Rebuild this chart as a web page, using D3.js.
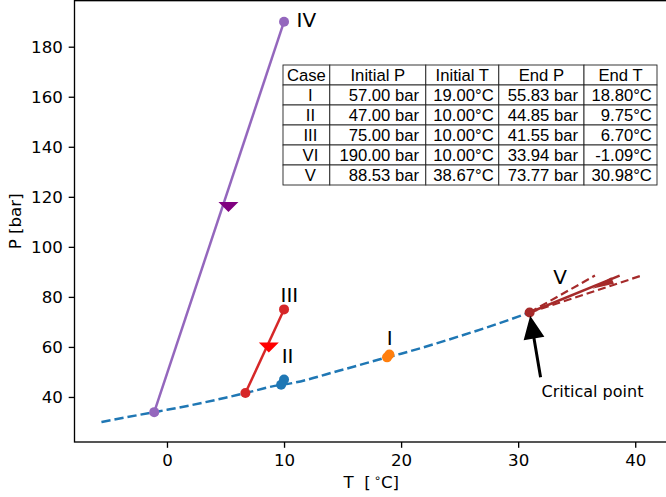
<!DOCTYPE html>
<html>
<head>
<meta charset="utf-8">
<script src="https://cdn.jsdelivr.net/npm/d3@7"></script>
<style>
  html, body { margin: 0; padding: 0; background: #fff; overflow: hidden; }
  svg { display: block; }
  text { font-family: "DejaVu Sans", sans-serif; fill: #000; }
</style>
</head>
<body>
<script>
// ---- axis limits and ticks ----
const xLimits = [-7.9, 42.8];
const yLimits = [22.0, 198.4];
const xTicks = [0, 10, 20, 30, 40];
const yTicks = [40, 60, 80, 100, 120, 140, 160, 180];

// ---- CO2 liquid/vapour saturation line (T in °C, P in bar) ----
const satT = [-5.6, -1.09, 0, 5, 6.7, 9.75, 10, 15, 18.8, 20, 25, 30, 30.98];
const satP = [30.0, 33.94, 34.85, 39.7, 41.55, 44.85, 45.0, 50.9, 55.83, 57.3, 64.3, 72.1, 73.77];

// ---- expansion cases ----
const caseNames  = ["I", "II", "III", "IV", "V"];
const tableNames = ["I", "II", "III", "VI", "V"];
const initialP = [57.00, 47.00, 75.00, 190.00, 88.53];
const initialT = [19.00, 10.00, 10.00, 10.00, 38.67];
const endP     = [55.83, 44.85, 41.55, 33.94, 73.77];
const endT     = [18.80, 9.75, 6.70, -1.09, 30.98];

// direction-of-travel markers
const arrowCase = ["III", "IV", "V"];
const arrowT = [8.70, 5.25, 37.2];
const arrowP = [59.8, 115.9, 84.9];

// case label anchors (T, P)
const labelT = [18.77, 9.80, 9.70, 11.07, 33.0];
const labelP = [60.7, 53.4, 78.0, 187.7, 85.1];

// dashed bounds above the critical point for case V
const boundEndT = [36.56, 40.55];
const boundEndP = [88.53, 88.53];

// "Critical point" note position (T, P)
const noteT = 32.0, noteP = 40.1;

const tableHeader = ["Case", "Initial P", "Initial T", "End P", "End T"];

// ---- styles ----
const caseColor = { I: "#ff7f0e", II: "#1f77b4", III: "#d62728", IV: "#9467bd", V: "#a52a2a" };
const arrowColor = { III: "#ff0000", IV: "#800080", V: "#a52a2a" };
const satColor = "#1f77b4";

const W = 666, H = 497;
const plot = { left: 74.5, top: 0.67, right: 668, bottom: 442 };

const svg = d3.select("body").append("svg").attr("width", W).attr("height", H);

const x = d3.scaleLinear().domain(xLimits).range([plot.left, plot.right]);
const y = d3.scaleLinear().domain(yLimits).range([plot.bottom, plot.top]);

// ---- axes ----
const tickFont = "16.67px";
const gx = svg.append("g").attr("transform", `translate(0,${plot.bottom})`)
  .call(d3.axisBottom(x).tickValues(xTicks).tickSize(5.8).tickPadding(6.5).tickFormat(d3.format("d")));
const gy = svg.append("g").attr("transform", `translate(${plot.left},0)`)
  .call(d3.axisLeft(y).tickValues(yTicks).tickSize(5.8).tickPadding(5.8).tickFormat(d3.format("d")));
[gx, gy].forEach(g => {
  g.select(".domain").remove();
  g.selectAll(".tick line").attr("stroke", "#000").attr("stroke-width", 1.33);
  g.selectAll(".tick text").attr("font-family", "DejaVu Sans").attr("font-size", tickFont).attr("fill", "#000");
});

// frame
svg.append("rect")
  .attr("x", plot.left).attr("y", plot.top)
  .attr("width", plot.right - plot.left).attr("height", plot.bottom - plot.top)
  .attr("fill", "none").attr("stroke", "#000").attr("stroke-width", 1.33);

// axis titles
const xt = svg.append("text")
  .attr("x", (plot.left + plot.right) / 2).attr("y", 487.7)
  .attr("text-anchor", "middle").attr("font-size", tickFont)
  .attr("xml:space", "preserve");
xt.append("tspan").text("T  [");
xt.append("tspan").attr("dx", 3).attr("dy", -6).attr("font-size", "11.5px").text("∘");
xt.append("tspan").attr("dy", 6).text("C]");

svg.append("text")
  .attr("transform", `translate(20.5,${(plot.top + plot.bottom) / 2}) rotate(-90)`)
  .attr("text-anchor", "middle").attr("font-size", tickFont)
  .text("P [bar]");

// ---- saturation line ----
const satLine = d3.line().x(d => x(d[0])).y(d => y(d[1])).curve(d3.curveMonotoneX);
svg.append("path")
  .datum(satT.map((t, i) => [t, satP[i]]))
  .attr("d", satLine)
  .attr("fill", "none").attr("stroke", satColor).attr("stroke-width", 2.5)
  .attr("stroke-dasharray", "9.25,4");

// ---- dashed bounds for case V ----
const vi = caseNames.indexOf("V");
boundEndT.forEach((t, k) => {
  svg.append("line")
    .attr("x1", x(endT[vi])).attr("y1", y(endP[vi]))
    .attr("x2", x(t)).attr("y2", y(boundEndP[k]))
    .attr("stroke", caseColor.V).attr("stroke-width", 2.2)
    .attr("stroke-dasharray", "8,4");
});

// ---- case paths ----
caseNames.forEach((name, i) => {
  const c = caseColor[name];
  svg.append("line")
    .attr("x1", x(initialT[i])).attr("y1", y(initialP[i]))
    .attr("x2", x(endT[i])).attr("y2", y(endP[i]))
    .attr("stroke", c).attr("stroke-width", 2.5);
  const pts = name === "V" ? [[endT[i], endP[i]]]
                           : [[initialT[i], initialP[i]], [endT[i], endP[i]]];
  pts.forEach(p => {
    svg.append("circle").attr("cx", x(p[0])).attr("cy", y(p[1])).attr("r", 5).attr("fill", c);
  });
});

// ---- direction markers ----
arrowCase.forEach((name, k) => {
  const cx = x(arrowT[k]), cy = y(arrowP[k]);
  let d;
  if (name === "V") {
    const i = caseNames.indexOf(name);
    const dx = x(endT[i]) - x(initialT[i]), dy = y(endP[i]) - y(initialP[i]);
    const L = Math.hypot(dx, dy), ux = dx / L, uy = dy / L;
    const px = -uy, py = ux;
    const tip = [cx + 11 * ux, cy + 11 * uy];
    const bc = [cx - 11 * ux, cy - 11 * uy];
    d = `M${tip[0]},${tip[1]}L${bc[0] + 3.5 * px},${bc[1] + 3.5 * py}L${bc[0] - 3.5 * px},${bc[1] - 3.5 * py}Z`;
  } else {
    d = `M${cx - 10},${cy - 5}L${cx + 10},${cy - 5}L${cx},${cy + 5}Z`;
  }
  svg.append("path").attr("d", d).attr("fill", arrowColor[name]);
});

// ---- case labels ----
caseNames.forEach((name, i) => {
  svg.append("text")
    .attr("x", x(labelT[i])).attr("y", y(labelP[i]))
    .attr("font-size", "20px").text(name);
});

// ---- critical point note ----
const cpx = x(endT[vi]), cpy = y(endP[vi]);
const tx = x(noteT), ty = y(noteP);
svg.append("text").attr("x", tx).attr("y", ty).attr("font-size", "16px").text("Critical point");
(function () {
  const tail = [tx - 1, ty - 19.5];
  const vx = tail[0] - cpx, vy = tail[1] - cpy;
  const len = Math.hypot(vx, vy);
  const ux = vx / len, uy = vy / len;     // from point toward tail
  const tip = [cpx + 0.05 * len * ux, cpy + 0.05 * len * uy];
  const headL = 23, headW = 10.5, shaftW = 1.5;
  const px = -uy, py = ux;
  const base = [tip[0] + headL * ux, tip[1] + headL * uy];
  const pts = [
    [tail[0] + shaftW * px, tail[1] + shaftW * py],
    [base[0] + shaftW * px, base[1] + shaftW * py],
    [base[0] + headW * px, base[1] + headW * py],
    tip,
    [base[0] - headW * px, base[1] - headW * py],
    [base[0] - shaftW * px, base[1] - shaftW * py],
    [tail[0] - shaftW * px, tail[1] - shaftW * py]
  ];
  svg.append("path").attr("d", "M" + pts.map(p => p.join(",")).join("L") + "Z").attr("fill", "#000");
})();

// ---- summary table ----
const colW = [46.8, 96, 73, 85.2, 73];
const rowH = 20;
const tbl = svg.append("g").attr("transform", "translate(283,65)");
const rows = [tableHeader].concat(tableNames.map((n, i) => [
  n,
  initialP[i].toFixed(2) + " bar",
  initialT[i].toFixed(2) + "°C",
  endP[i].toFixed(2) + " bar",
  endT[i].toFixed(2) + "°C"
]));
const colX = colW.reduce((a, w) => (a.push(a[a.length - 1] + w), a), [0]);
rows.forEach((row, r) => {
  row.forEach((cell, c) => {
    const x0 = colX[c], y0 = r * rowH;
    tbl.append("rect").attr("x", x0).attr("y", y0).attr("width", colW[c]).attr("height", rowH)
      .attr("fill", "#fff").attr("stroke", "#222").attr("stroke-width", 0.9);
    let tx, anchor;
    if (r === 0) { tx = x0 + colW[c] / 2; anchor = "middle"; }
    else if (c === 0) { tx = x0 + colW[c] / 2 + 4; anchor = "middle"; }
    else { tx = x0 + colW[c] * 0.93; anchor = "end"; }
    tbl.append("text").attr("x", tx).attr("y", y0 + 16)
      .attr("text-anchor", anchor)
      .style("font-family", '"Liberation Sans", Arial, sans-serif')
      .attr("font-size", "16.67px").text(cell);
  });
});
</script>
</body>
</html>
